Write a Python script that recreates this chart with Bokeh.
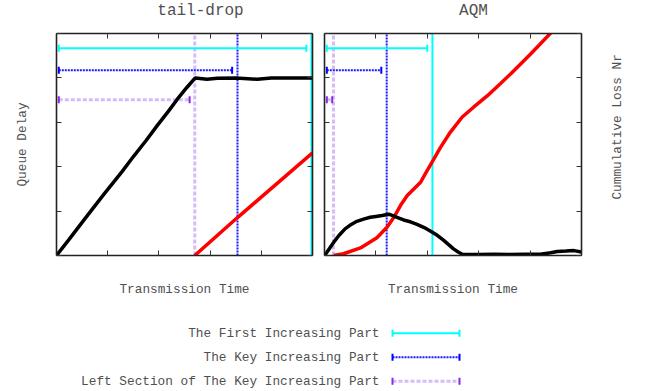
import math
from bokeh.plotting import figure
from bokeh.models import (Range1d, LinearAxis, FixedTicker, Whisker, TeeHead,
                          ColumnDataSource)
from bokeh.layouts import column, row
from bokeh.core.properties import value
from bokeh.embed import file_html
from bokeh.resources import INLINE

# ---------------- data ----------------
panel_titles = ["tail-drop", "AQM"]
x_label = "Transmission Time"
y_label_left = "Queue Delay"
y_label_right = "Cummulative Loss Nr"
legend_labels = ["The First Increasing Part", "The Key Increasing Part",
                 "Left Section of The Key Increasing Part"]
ticks = [0, 1, 2, 3, 4, 5]

# tail-drop panel
td_delay_x = [0, 0.25, 0.53, 0.92, 1.28, 1.51, 1.75, 1.97, 2.18, 2.36, 2.55, 2.71,
              2.94, 3.14, 3.5, 3.92, 4.2, 4.6, 5.0]
td_delay_y = [0, 0.37, 0.79, 1.37, 1.89, 2.24, 2.59, 2.93, 3.24, 3.52, 3.79, 4.0,
              3.97, 3.99, 4.0, 3.97, 4.0, 4.0, 4.0]
td_loss_x = [2.70, 3.54, 5.0]
td_loss_y = [0.0, 0.86, 2.31]
td_vlines = [2.70, 3.535, 4.98]          # purple, blue, cyan
td_bar_y = [4.67, 4.17, 3.51]            # cyan, blue, purple
td_bar_start = [0.045, 0.045, 0.045]
td_bar_end = [4.88, 3.43, 2.60]

# AQM panel
aqm_delay_x = [0, 0.05, 0.18, 0.28, 0.40, 0.52, 0.63, 0.76, 0.89, 1.0, 1.12, 1.25, 1.33,
               1.41, 1.54, 1.67, 1.80, 1.94, 2.09, 2.2, 2.32, 2.42, 2.51, 2.60, 2.68,
               3.0, 3.3, 3.6, 3.9, 4.2, 4.4, 4.53, 4.7, 4.85, 5.0]
aqm_delay_y = [0, 0.08, 0.30, 0.45, 0.60, 0.70, 0.77, 0.82, 0.86, 0.88, 0.90, 0.93, 0.90,
               0.86, 0.80, 0.76, 0.70, 0.63, 0.53, 0.45, 0.34, 0.24, 0.15, 0.08, 0.03,
               0.02, 0.03, 0.02, 0.03, 0.03, 0.06, 0.09, 0.10, 0.11, 0.08]
aqm_loss_x = [0.18, 0.37, 0.70, 1.02, 1.22, 1.35, 1.48, 1.61, 1.87, 1.96, 2.09, 2.26,
              2.45, 2.68, 2.90, 3.17, 3.42, 3.62, 4.01, 4.40, 4.6]
aqm_loss_y = [0, 0.04, 0.17, 0.40, 0.64, 0.86, 1.13, 1.35, 1.65, 1.84, 2.10, 2.44,
              2.78, 3.12, 3.34, 3.60, 3.87, 4.09, 4.54, 5.01, 5.25]
aqm_vlines = [0.175, 1.21, 2.10]
aqm_bar_y = [4.67, 4.17, 3.51]
aqm_bar_start = [0.045, 0.045, 0.045]
aqm_bar_end = [2.0, 1.105, 0.15]

# ---------------- styles ----------------
FONT = value("Liberation Mono")
TXT = "#505050"
CYAN = "#00ffff"
BLUE = "#0000ff"
PURPLE = "#9955ee"
PURPLE_CAP = "#8a2be2"
# style per series: (color, width, dash, alpha, cap color)
styles = [
    (CYAN, 2, "solid", 1.0, CYAN),
    (BLUE, 2, "2 1", 0.9, BLUE),
    (PURPLE, 3, "4 2", 0.4, PURPLE_CAP),
]

W, TITLE_H, PANEL_H, LEG_H = 649, 25, 283, 83


def blank_fig(width, height, flip_y=True):
    f = figure(width=width, height=height, x_range=Range1d(0, width),
               y_range=Range1d(height, 0) if flip_y else Range1d(0, height),
               output_backend="svg", toolbar_location=None, min_border=0,
               x_axis_location=None, y_axis_location=None)
    f.grid.visible = False
    f.outline_line_color = None
    return f


def style_axis(ax):
    ax.ticker = FixedTicker(ticks=ticks)
    ax.major_tick_in = 5
    ax.major_tick_out = 0
    ax.minor_tick_in = 0
    ax.minor_tick_out = 0
    ax.major_label_text_font_size = "1px"
    ax.major_label_text_color = None
    ax.major_label_text_alpha = 0
    ax.major_label_standoff = 0
    ax.axis_line_color = "#222222"
    ax.axis_line_width = 1.6
    ax.major_tick_line_color = "#333333"
    ax.axis_label_text_font = "Liberation Mono"
    ax.axis_label_text_font_style = "normal"
    ax.axis_label_text_font_size = "12.75px"
    ax.axis_label_text_color = TXT


def make_panel(delay_x, delay_y, loss_x, loss_y, vlines, bar_y, bar_s, bar_e,
               left_border, right_border, frame_w, ylabel_left):
    p = figure(frame_width=frame_w, frame_height=222,
               x_range=Range1d(0, 5), y_range=Range1d(0, 5),
               output_backend="svg", toolbar_location=None,
               min_border_left=left_border, min_border_right=right_border,
               min_border_top=8, min_border_bottom=53,
               x_axis_location=None, y_axis_location=None)
    p.grid.visible = False
    p.outline_line_color = None

    bottom = LinearAxis(axis_label=x_label, axis_label_standoff=26)
    top = LinearAxis()
    left = LinearAxis()
    right = LinearAxis()
    for ax in (bottom, top, left, right):
        style_axis(ax)
    if ylabel_left:
        left.axis_label = ylabel_left
        left.axis_label_standoff = 27
    p.add_layout(bottom, "below")
    p.add_layout(top, "above")
    p.add_layout(left, "left")
    p.add_layout(right, "right")

    # vertical markers: purple, blue, cyan
    vstyle = [styles[2], styles[1], styles[0]]
    for xv, (col, w, dash, alpha, _) in zip(vlines, vstyle):
        p.segment(x0=[xv], y0=[0], x1=[xv], y1=[5], line_color=col, line_width=w,
                  line_dash=dash, line_alpha=alpha, level="underlay")

    # horizontal error bars: cyan, blue, purple
    for i, (col, w, dash, alpha, cap) in enumerate(styles):
        src = ColumnDataSource(dict(base=[bar_y[i]], lower=[bar_s[i]], upper=[bar_e[i]]))
        wk = Whisker(source=src, base="base", lower="lower", upper="upper",
                     dimension="width", line_color=col, line_width=w, line_dash=dash,
                     line_alpha=alpha, level="underlay",
                     lower_head=TeeHead(size=7, line_color=cap, line_width=2),
                     upper_head=TeeHead(size=7, line_color=cap, line_width=2))
        p.add_layout(wk)

    p.line(loss_x, loss_y, line_color="#ff0000", line_width=3.5)
    p.line(delay_x, delay_y, line_color="#000000", line_width=3.5)
    return p


# ---------------- titles row ----------------
top_fig = blank_fig(W, TITLE_H)
TITLE_XS, TITLE_Y = [200, 473], 10
top_fig.text(x=TITLE_XS, y=[TITLE_Y] * 2, text=panel_titles, text_align="center",
             text_baseline="middle", text_font=FONT, text_font_size="16px",
             text_color=TXT)

# ---------------- panels ----------------
p1 = make_panel(td_delay_x, td_delay_y, td_loss_x, td_loss_y, td_vlines, td_bar_y,
                td_bar_start, td_bar_end, 56, 6, 256, y_label_left)
p2 = make_panel(aqm_delay_x, aqm_delay_y, aqm_loss_x, aqm_loss_y, aqm_vlines, aqm_bar_y,
                aqm_bar_start, aqm_bar_end, 6, 6, 257, None)

# right-hand axis title
SIDE_W = W - 318 - 269
side = blank_fig(SIDE_W, PANEL_H, flip_y=False)
side.text(x=[30], y=[PANEL_H - 119], text=[y_label_right], angle=math.pi / 2,
          text_align="center", text_baseline="middle", text_font=FONT,
          text_font_size="12.75px", text_color=TXT)

# ---------------- legend ----------------
leg = blank_fig(W, LEG_H)
TEXT_X, ROW0, ROW_STEP, SAMPLE_X0, SAMPLE_X1 = 379, 24.7, 24, 392, 459
rows = [ROW0 + i * ROW_STEP for i in range(len(legend_labels))]
leg.text(x=[TEXT_X] * len(legend_labels), y=rows, text=legend_labels,
         text_align="right", text_baseline="middle", text_font=FONT,
         text_font_size="12.75px", text_color=TXT)
for i, (col, w, dash, alpha, cap) in enumerate(styles):
    src = ColumnDataSource(dict(base=[rows[i]], lower=[SAMPLE_X0], upper=[SAMPLE_X1]))
    leg.add_layout(Whisker(source=src, base="base", lower="lower", upper="upper",
                           dimension="width", line_color=col, line_width=w, line_dash=dash,
                           line_alpha=alpha,
                           lower_head=TeeHead(size=7, line_color=cap, line_width=2),
                           upper_head=TeeHead(size=7, line_color=cap, line_width=2)))

layout = column(top_fig, row(p1, p2, side, spacing=0), leg, spacing=0)
open("out.html", "w").write(file_html(layout, INLINE))
